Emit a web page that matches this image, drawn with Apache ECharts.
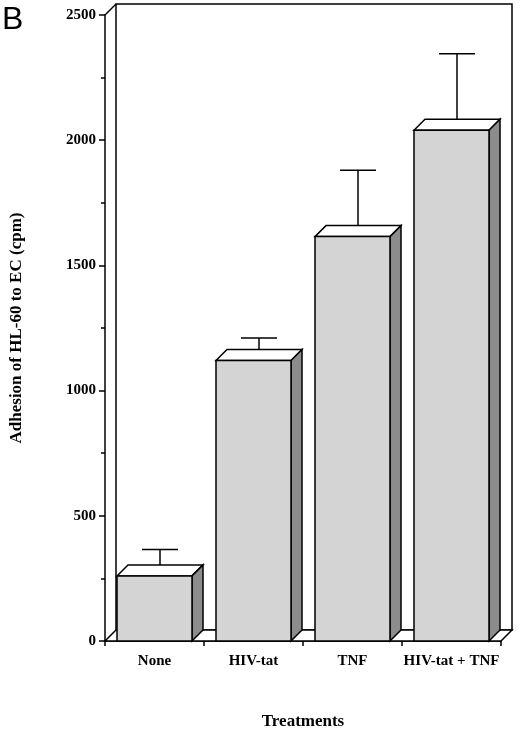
<!DOCTYPE html>
<html><head><meta charset="utf-8">
<script src="https://cdn.jsdelivr.net/npm/echarts@6/dist/echarts.min.js"></script>
<style>html,body{margin:0;padding:0;background:#fff}#c{width:520px;height:735px}</style>
</head><body><div id="c"></div>
<script>
var categories = ['None', 'HIV-tat', 'TNF', 'HIV-tat + TNF'];
var means = [260, 1120, 1615, 2040];
var errTops = [365, 1210, 1880, 2345];
var yTicks = [0, 500, 1000, 1500, 2000, 2500];

var D = 11, BW = 75;
var serif = '"Liberation Serif", "DejaVu Serif", serif';
var chart = echarts.init(document.getElementById('c'));
chart.setOption({
  animation: false,
  grid: {left: 105, right: 19, top: 15, bottom: 92},
  xAxis: {type: 'category', data: categories,
    axisLine: {lineStyle: {color: '#000', width: 1.5}},
    axisTick: {show: true, length: 5, lineStyle: {color: '#000', width: 1.5}},
    axisLabel: {interval: 0, color: '#000', fontFamily: serif, fontWeight: 'bold', fontSize: 15, margin: 13},
    name: 'Treatments', nameLocation: 'middle', nameGap: 72,
    nameTextStyle: {color: '#000', fontFamily: serif, fontWeight: 'bold', fontSize: 17}},
  yAxis: {type: 'value', min: 0, max: 2500, interval: 500,
    axisLine: {show: true, lineStyle: {color: '#000', width: 1.5}},
    axisTick: {show: true, inside: false, length: 6, lineStyle: {color: '#000', width: 1.5}},
    minorTick: {show: true, splitNumber: 2, length: 4, lineStyle: {color: '#000', width: 1.5}},
    splitLine: {show: false},
    axisLabel: {color: '#000', fontFamily: serif, fontWeight: 'bold', fontSize: 15, margin: 9,
      formatter: function (v) { return yTicks.indexOf(v) >= 0 ? String(v) : ''; }},
    name: 'Adhesion of HL-60 to EC (cpm)', nameLocation: 'middle', nameGap: 80,
    nameTextStyle: {color: '#000', fontFamily: serif, fontWeight: 'bold', fontSize: 17}},
  graphic: [{type: 'text', left: 2, top: 4, style: {text: 'B', font: '32px "Liberation Sans", Arial, sans-serif', fill: '#000'}}],
  series: [
    {type: 'custom', z: 1, data: [[0]], renderItem: function (p, api) {
      var l = api.coord([0, 0]), s = api.size([1, 0]);
      var x0 = l[0] - s[0] / 2, x1 = x0 + s[0] * categories.length;
      var y0 = api.coord([0, 0])[1], yT = api.coord([0, 2500])[1];
      var st = {fill: '#fff', stroke: '#000', lineWidth: 1.5};
      return {type: 'group', children: [
        {type: 'polygon', shape: {points: [[x0 + D, y0 - D], [x1 + D, y0 - D], [x1 + D, yT - D], [x0 + D, yT - D]]}, style: st},
        {type: 'polygon', shape: {points: [[x0, y0], [x1, y0], [x1 + D, y0 - D], [x0 + D, y0 - D]]}, style: st},
        {type: 'line', shape: {x1: x0, y1: yT, x2: x0 + D, y2: yT - D}, style: {stroke: '#000', lineWidth: 1.5}}
      ]};
    }},
    {type: 'custom', z: 3, data: means.map(function (v, i) { return [i, v, errTops[i]]; }),
     renderItem: function (p, api) {
      var i = api.value(0), v = api.value(1), e = api.value(2);
      var c = api.coord([i, v]), b = api.coord([i, 0]), et = api.coord([i, e]);
      var xa = c[0] - BW / 2, xb = c[0] + BW / 2, yt = c[1], yb = b[1];
      var ln = {stroke: '#000', lineWidth: 1.5};
      var sx = c[0] + D / 2, sy = yt - D / 2;
      return {type: 'group', children: [
        {type: 'line', shape: {x1: sx, y1: sy, x2: sx, y2: et[1]}, style: ln},
        {type: 'line', shape: {x1: sx - 18, y1: et[1], x2: sx + 18, y2: et[1]}, style: ln},
        {type: 'polygon', shape: {points: [[xa, yt], [xb, yt], [xb + D, yt - D], [xa + D, yt - D]]}, style: {fill: '#fff', stroke: '#000', lineWidth: 1.5}},
        {type: 'polygon', shape: {points: [[xb, yt], [xb + D, yt - D], [xb + D, yb - D], [xb, yb]]}, style: {fill: '#8c8c8c', stroke: '#000', lineWidth: 1.5}},
        {type: 'rect', shape: {x: xa, y: yt, width: BW, height: yb - yt}, style: {fill: '#d4d4d4', stroke: '#000', lineWidth: 1.5}}
      ]};
    }}
  ]
});
</script></body></html>
